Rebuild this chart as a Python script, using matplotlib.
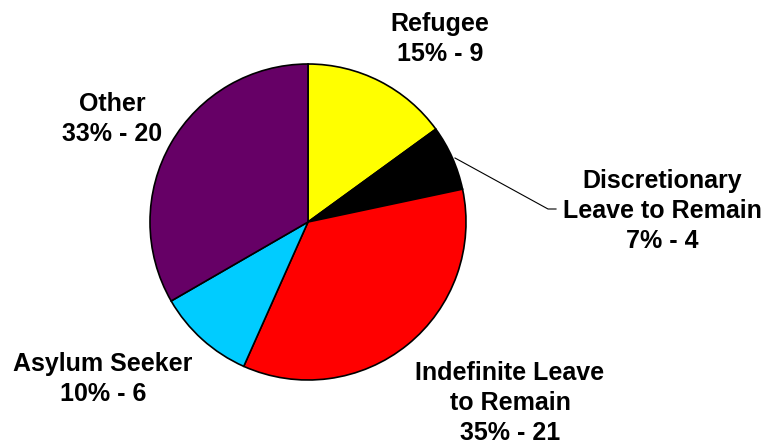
import matplotlib
matplotlib.use("Agg")
import matplotlib.pyplot as plt

categories = ["Refugee", "Discretionary\nLeave to Remain", "Indefinite Leave\nto Remain",
              "Asylum Seeker", "Other"]
counts = [9, 4, 21, 6, 20]
percents = [15, 7, 35, 10, 33]
colors = ["#FFFF00", "#000000", "#FF0000", "#00CCFF", "#660066"]

# label centres in pixel coords of the 771x448 picture
label_px = [(440, 39), (662, 211), (510, 403), (103, 379), (112, 119)]

W, H = 771, 448
cx, cy, r = 308, 222, 158

plt.rcParams['font.family'] = ['Liberation Sans', 'DejaVu Sans']

fig = plt.figure(figsize=(W / 100, H / 100), dpi=100)
ax = fig.add_axes([(cx - r) / W, (H - cy - r) / H, 2 * r / W, 2 * r / H])
ax.pie(counts, colors=colors, startangle=90, counterclock=False, radius=1,
       wedgeprops=dict(edgecolor='black', linewidth=1.2))
ax.set_xlim(-1, 1)
ax.set_ylim(-1, 1)
ax.set_aspect('equal')
ax.axis('off')


def to_data(px, py):
    return (px - cx) / r, (cy - py) / r


for name, pct, n, (px, py) in zip(categories, percents, counts, label_px):
    x, y = to_data(px, py)
    ax.text(x, y, f"{name}\n{pct}% - {n}", ha='center', va='center',
            fontsize=18, fontweight='bold', linespacing=1.32, clip_on=False)

# leader line for the small black slice
pts = [to_data(455, 158), to_data(548, 209), to_data(556, 209)]
ax.plot([p[0] for p in pts], [p[1] for p in pts], color='black', linewidth=0.8, clip_on=False)

fig.savefig("out.png", dpi=100)
